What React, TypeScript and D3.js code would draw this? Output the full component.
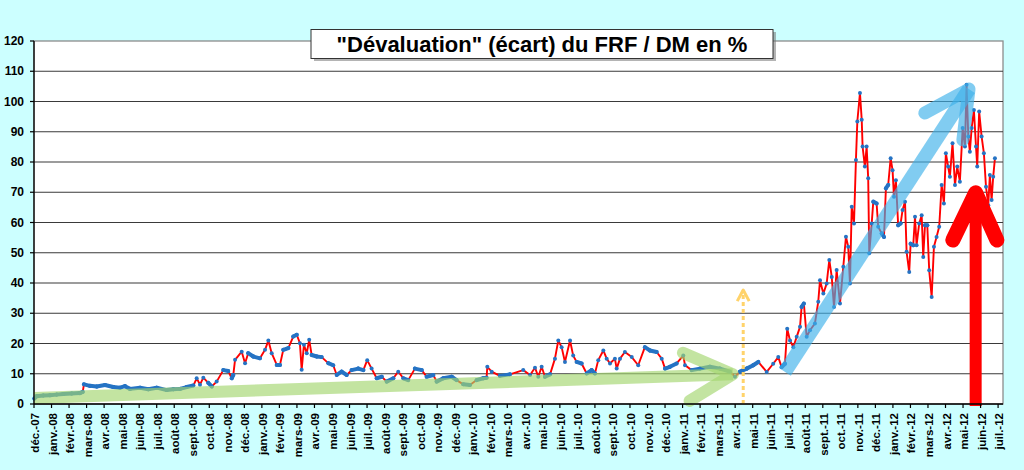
import * as d3 from 'd3';

// months since 1 Dec 2007 (0 = déc.-07) and deviation in %
const obsMonth = [
  0.02, 0.15, 0.53, 0.91, 1.29, 1.67, 2.15, 2.62, 2.78, 2.85, 3.19, 3.58, 4.05, 4.52, 4.91, 5.19,
  5.48, 6.05, 6.52, 7.0, 7.57, 7.95, 8.33, 8.71, 9.09, 9.28, 9.47, 9.66, 9.94, 10.14, 10.42, 10.8,
  11.08, 11.28, 11.37, 11.47, 11.85, 12.04, 12.22, 12.51, 12.89, 13.18, 13.37, 13.56, 13.85, 14.03,
  14.22, 14.51, 14.79, 14.99, 15.17, 15.27, 15.4, 15.56, 15.7, 15.84, 16.13, 16.41, 16.79, 17.07,
  17.27, 17.55, 17.84, 18.12, 18.5, 18.79, 19.01, 19.26, 19.55, 19.84, 20.12, 20.5, 20.78, 21.07,
  21.35, 21.73, 22.12, 22.4, 22.78, 22.97, 23.35, 23.83, 24.11, 24.49, 24.87, 25.25, 25.63, 25.82,
  25.86, 26.11, 26.58, 27.15, 27.91, 28.3, 28.58, 28.77, 28.96, 29.15, 29.44, 29.72, 29.91, 30.1,
  30.29, 30.58, 30.76, 30.96, 31.24, 31.53, 31.81, 32.0, 32.19, 32.48, 32.67, 32.86, 33.14, 33.24,
  33.43, 33.71, 34.1, 34.47, 34.85, 35.14, 35.52, 35.81, 36.0, 36.28, 36.66, 37.04, 37.14, 37.52,
  37.99, 38.56, 39.13, 39.7, 39.99, 40.27, 40.66, 41.03, 41.32, 41.8, 42.17, 42.46, 42.65, 42.84,
  42.97, 43.13, 43.32, 43.51, 43.7, 43.79, 43.92, 44.08, 44.27, 44.55, 44.74, 44.84, 45.03, 45.22,
  45.37, 45.51, 45.64, 45.79, 45.98, 46.17, 46.32, 46.45, 46.55, 46.65, 46.78, 46.89, 46.97, 47.12,
  47.22, 47.27, 47.4, 47.5, 47.59, 47.65, 47.79, 47.88, 48.07, 48.16, 48.36, 48.49, 48.6, 48.73,
  48.87, 48.98, 49.06, 49.17, 49.3, 49.44, 49.55, 49.69, 49.78, 49.93, 50.01, 50.16, 50.26, 50.35,
  50.5, 50.64, 50.73, 50.83, 50.96, 51.07, 51.21, 51.34, 51.49, 51.64, 51.78, 51.91, 52.02, 52.15,
  52.25, 52.4, 52.54, 52.67, 52.82, 52.98, 53.11, 53.2, 53.3, 53.39, 53.49, 53.62, 53.74, 53.81,
  53.92, 54.06, 54.19, 54.31, 54.44, 54.53, 54.63, 54.72, 54.82,
];

const obsValue = [
  1.8, 2.6, 2.8, 2.9, 3.1, 3.3, 3.5, 3.6, 4.0, 6.5, 6.0, 5.8, 6.3, 5.6, 5.4, 5.9,
  5.0, 5.4, 4.9, 5.4, 4.6, 4.9, 5.0, 5.6, 6.1, 8.5, 6.4, 8.7, 7.0, 5.8, 7.4, 11.2,
  10.9, 8.5, 9.6, 14.6, 17.3, 13.5, 16.8, 15.7, 15.1, 17.9, 21.0, 16.8, 12.9, 12.9,
  17.9, 18.5, 22.3, 22.9, 20.1, 11.3, 19.6, 16.8, 21.2, 16.2, 15.7, 15.5, 13.5, 12.8,
  9.6, 10.7, 9.6, 11.2, 11.7, 11.2, 14.5, 11.7, 8.5, 9.0, 7.4, 8.5, 10.7, 8.5,
  7.9, 11.7, 11.2, 9.0, 9.6, 7.4, 8.5, 9.0, 7.9, 6.5, 6.3, 7.9, 8.5, 8.7,
  12.3, 10.7, 9.3, 9.8, 11.2, 9.6, 12.0, 9.0, 12.3, 9.0, 9.8, 15.0, 21.0, 18.8,
  13.9, 21.0, 16.0, 13.9, 13.4, 10.1, 11.2, 10.1, 14.5, 17.7, 15.0, 13.4, 15.0, 11.7,
  15.0, 17.2, 15.5, 12.8, 18.8, 17.7, 17.2, 15.0, 11.7, 12.3, 13.4, 16.0, 12.8, 11.2,
  11.7, 12.3, 11.7, 10.7, 9.0, 10.7, 11.7, 12.8, 13.9, 10.6, 13.3, 15.5, 12.2, 13.3,
  24.9, 21.0, 18.8, 22.2, 25.5, 32.1, 33.2, 22.2, 24.4, 26.6, 33.8, 40.9, 36.5, 39.8,
  47.6, 42.0, 32.1, 44.3, 33.2, 45.4, 55.3, 52.0, 39.8, 65.2, 59.7, 80.7, 93.4, 102.8,
  94.0, 85.1, 78.5, 85.1, 74.6, 49.8, 59.7, 66.9, 66.3, 58.6, 56.4, 55.2, 71.3, 72.4,
  81.2, 77.3, 68.5, 74.0, 59.1, 59.7, 64.1, 66.9, 50.3, 43.6, 53.0, 52.5, 61.9, 52.5,
  59.7, 62.4, 48.6, 59.1, 59.1, 44.2, 35.4, 52.0, 55.2, 58.6, 72.4, 66.3, 82.9, 78.5,
  75.1, 86.2, 72.4, 78.5, 73.5, 91.2, 85.1, 105.5, 88.4, 83.4, 91.2, 97.2, 85.1, 78.5,
  96.7, 88.4, 82.9, 71.8, 65.7, 75.7, 67.4, 75.1, 81.2,
];

const monthNames = ['janv.', 'févr.', 'mars', 'avr.', 'mai', 'juin', 'juil.', 'août', 'sept.', 'oct.', 'nov.', 'déc.'];
const monthLabels = d3.range(56).map((i) => {
  const m = (11 + i) % 12;
  const yr = 7 + Math.floor((11 + i) / 12);
  return `${monthNames[m]}-${String(yr).padStart(2, '0')}`;
});
const yTicks = [0, 10, 20, 30, 40, 50, 60, 70, 80, 90, 100, 110, 120];

const title = '"Dévaluation" (écart) du FRF / DM en %';

// annotation arrows, in (month, %) units
const greenArrow = {
  shaft: [[0, 2.0], [39.87, 9.8]],
  head: [[37.02, 16.9], [39.87, 9.8], [37.4, 1.0]],
};
const blueArrow = {
  shaft: [[42.84, 10.6], [53.34, 104.1]],
  head: [[50.82, 96.2], [53.34, 104.1], [52.99, 87.3]],
};
const redArrow = {
  shaft: [[53.72, -0.7], [53.72, 68.5]],
  head: [[52.42, 54.2], [53.72, 69.8], [54.93, 54.2]],
};
const yellowArrow = {
  shaft: [[40.46, 0], [40.46, 37.7]],
  head: [[40.12, 34], [40.46, 37.7], [40.8, 34]],
};

const W = 1024;
const H = 470;
const plot = { left: 34, right: 1003, top: 41, bottom: 404 };
const font = '"Liberation Sans", Arial, sans-serif';
const markerBlue = '#2573c4';

export default function App() {
  const x = d3.scaleLinear().domain([0, 55.28]).range([plot.left, plot.right]);
  const y = d3.scaleLinear().domain([0, 120]).range([plot.bottom, plot.top]);

  const pts = obsMonth.map((t, i) => [x(t), y(obsValue[i])] as [number, number]);
  const line = d3.line<[number, number]>();
  const seriesPath = line(pts) ?? '';
  // where consecutive markers overlap, the marker colour hides the red line
  const blueSegs = pts
    .slice(1)
    .map((p, i) => [pts[i], p])
    .filter(([a, b]) => Math.abs(b[1] - a[1]) < 4 && b[0] - a[0] < 14);

  const arrowLine = d3.line<number[]>().x((d) => x(d[0])).y((d) => y(d[1]));

  return (
    <svg width={W} height={H} style={{ position: 'absolute', left: 0, top: 0 }} fontFamily={font}>
      <rect width={W} height={H} fill="#CCFFFF" />
      <rect x={plot.left} y={plot.top} width={plot.right - plot.left} height={plot.bottom - plot.top} fill="#fff" stroke="#8c8c8c" strokeWidth={1.3} />
      {yTicks.slice(1, -1).map((v) => (
        <line key={v} x1={plot.left} x2={plot.right} y1={y(v)} y2={y(v)} stroke="#3a3a3a" strokeWidth={1.2} />
      ))}

      <path d={seriesPath} fill="none" stroke="#FF0000" strokeWidth={1.9} strokeLinejoin="round" />
      {blueSegs.map(([a, b], i) => (
        <line key={i} x1={a[0]} y1={a[1]} x2={b[0]} y2={b[1]} stroke={markerBlue} strokeWidth={4} strokeLinecap="round" />
      ))}
      {pts.map((p, i) => (
        <circle key={i} cx={p[0]} cy={p[1]} r={2} fill={markerBlue} />
      ))}

      <g fill="none" strokeOpacity={0.65} stroke="#A3D56E">
        <path d={arrowLine(greenArrow.shaft) ?? ''} strokeWidth={12} strokeLinecap="butt" />
        <path d={arrowLine(greenArrow.head) ?? ''} strokeWidth={12} strokeLinecap="round" strokeLinejoin="round" />
      </g>
      <g fill="none" strokeOpacity={0.65} stroke="#3EB0E9">
        <path d={arrowLine(blueArrow.shaft) ?? ''} strokeWidth={14} strokeLinecap="butt" />
        <path d={arrowLine(blueArrow.head) ?? ''} strokeWidth={13} strokeLinecap="round" strokeLinejoin="round" />
      </g>
      <g fill="none" stroke="#FFD36B" strokeWidth={3} strokeDasharray="4 3">
        <path d={arrowLine(yellowArrow.shaft) ?? ''} />
        <path d={arrowLine(yellowArrow.head) ?? ''} strokeDasharray="none" strokeLinejoin="round" />
      </g>
      <g fill="none" stroke="#FF0000">
        <path d={arrowLine(redArrow.shaft) ?? ''} strokeWidth={12} strokeLinecap="butt" />
        <path d={arrowLine(redArrow.head) ?? ''} strokeWidth={15} strokeLinecap="round" strokeLinejoin="round" />
      </g>

      <line x1={plot.left} x2={plot.left} y1={plot.top} y2={plot.bottom} stroke="#000" strokeWidth={1.3} />
      <line x1={plot.left} x2={plot.right} y1={plot.bottom} y2={plot.bottom} stroke="#000" strokeWidth={1.3} />

      {yTicks.map((v) => (
        <g key={v} transform={`translate(0,${y(v)})`}>
          <line x1={plot.left - 4} x2={plot.left} stroke="#000" strokeWidth={1.2} />
          <text x={24} dy="0.35em" textAnchor="end" fontSize={12} fontWeight="bold" fill="#000">
            {v}
          </text>
        </g>
      ))}

      {monthLabels.map((lab, i) => (
        <g key={lab} transform={`translate(${x(i)},${plot.bottom})`}>
          <line y1={0} y2={4} stroke="#000" strokeWidth={1.2} />
          <text transform="translate(1,9) rotate(-90)" dy="0.35em" textAnchor="end" fontSize={11.5} fontWeight="bold" fill="#000">
            {lab}
          </text>
        </g>
      ))}

      <rect x={314} y={32} width={462} height={29} fill="#777" opacity={0.55} />
      <rect x={311} y={29.5} width={462} height={29} fill="#fff" stroke="#333" strokeWidth={1} />
      <text x={542} y={52} textAnchor="middle" fontSize={22} fontWeight="bold" fill="#000">
        {title}
      </text>
    </svg>
  );
}
